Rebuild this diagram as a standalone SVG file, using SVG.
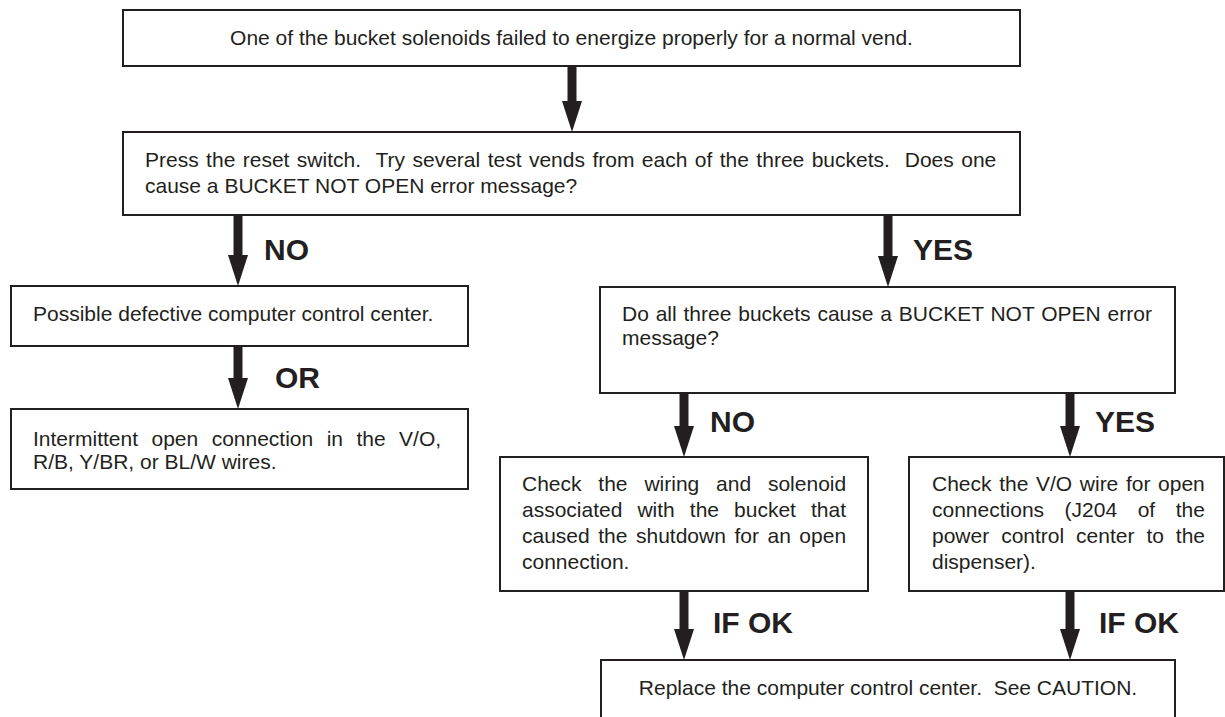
<svg xmlns="http://www.w3.org/2000/svg" width="1225" height="717" viewBox="0 0 1225 717" xml:space="preserve">
  <style>
    .box { fill: #ffffff; stroke: #231f20; stroke-width: 2; }
    .t { font-family: "Liberation Sans", Arial, Helvetica, sans-serif; font-size: 21px; fill: #231f20; white-space: pre; }
    .lbl { font-family: "Liberation Sans", Arial, Helvetica, sans-serif; font-size: 30px; font-weight: bold; fill: #231f20; }
    .shaft { stroke: #231f20; stroke-width: 9; fill: none; }
  </style>
  <defs>
    <marker id="ah" viewBox="0 0 31 20" refX="0" refY="10" markerWidth="31" markerHeight="20" markerUnits="userSpaceOnUse" orient="auto">
      <path d="M0,0 L31,10 L0,20 Z" fill="#231f20"/>
    </marker>
  </defs>
  <rect width="1225" height="717" fill="#ffffff"/>

  <g id="connectors">
    <line class="shaft" x1="572" y1="66" x2="572" y2="101" marker-end="url(#ah)"/>
    <line class="shaft" x1="238" y1="215" x2="238" y2="255" marker-end="url(#ah)"/>
    <line class="shaft" x1="888" y1="215" x2="888" y2="256" marker-end="url(#ah)"/>
    <line class="shaft" x1="238" y1="346" x2="238" y2="378" marker-end="url(#ah)"/>
    <line class="shaft" x1="684" y1="393" x2="684" y2="426" marker-end="url(#ah)"/>
    <line class="shaft" x1="1070" y1="393" x2="1070" y2="426" marker-end="url(#ah)"/>
    <line class="shaft" x1="684" y1="591" x2="684" y2="629" marker-end="url(#ah)"/>
    <line class="shaft" x1="1070" y1="591" x2="1070" y2="629" marker-end="url(#ah)"/>
    <text class="lbl" x="264" y="260">NO</text>
    <text class="lbl" x="913" y="260">YES</text>
    <text class="lbl" x="275" y="388">OR</text>
    <text class="lbl" x="710" y="432">NO</text>
    <text class="lbl" x="1095" y="432">YES</text>
    <text class="lbl" x="713" y="633">IF OK</text>
    <text class="lbl" x="1099" y="633">IF OK</text>
  </g>

  <g id="n1">
    <rect class="box" x="123" y="10" width="897" height="56"/>
    <text class="t" x="571.5" y="45" text-anchor="middle">One of the bucket solenoids failed to energize properly for a normal vend.</text>
  </g>

  <g id="n2">
    <rect class="box" x="123" y="132" width="897" height="83"/>
    <text class="t" x="145" y="167" word-spacing="1.6">Press the reset switch.  Try several test vends from each of the three buckets.  Does one</text>
    <text class="t" x="145" y="193">cause a BUCKET NOT OPEN error message?</text>
  </g>

  <g id="n3">
    <rect class="box" x="11" y="286" width="457" height="60"/>
    <text class="t" x="33" y="321">Possible defective computer control center.</text>
  </g>

  <g id="n4">
    <rect class="box" x="11" y="409" width="457" height="80"/>
    <text class="t" x="33" y="446" word-spacing="7.6">Intermittent open connection in the V/O,</text>
    <text class="t" x="33" y="469">R/B, Y/BR, or BL/W wires.</text>
  </g>

  <g id="n5">
    <rect class="box" x="600" y="287" width="575" height="106"/>
    <text class="t" x="622" y="321" word-spacing="1">Do all three buckets cause a BUCKET NOT OPEN error</text>
    <text class="t" x="622" y="345">message?</text>
  </g>

  <g id="n6">
    <rect class="box" x="500" y="457" width="368" height="134"/>
    <text class="t" x="522" y="491" word-spacing="11">Check the wiring and solenoid</text>
    <text class="t" x="522" y="517" word-spacing="9.2">associated with the bucket that</text>
    <text class="t" x="522" y="543" word-spacing="2.7">caused the shutdown for an open</text>
    <text class="t" x="522" y="569">connection.</text>
  </g>

  <g id="n7">
    <rect class="box" x="909" y="457" width="315" height="134"/>
    <text class="t" x="932" y="491" word-spacing="1.8">Check the V/O wire for open</text>
    <text class="t" x="932" y="517" word-spacing="14.7">connections (J204 of the</text>
    <text class="t" x="932" y="543" word-spacing="6.1">power control center to the</text>
    <text class="t" x="932" y="569">dispenser).</text>
  </g>

  <g id="n8">
    <rect class="box" x="601" y="660" width="574" height="70"/>
    <text class="t" x="888" y="695" text-anchor="middle">Replace the computer control center.  See CAUTION.</text>
  </g>
</svg>
